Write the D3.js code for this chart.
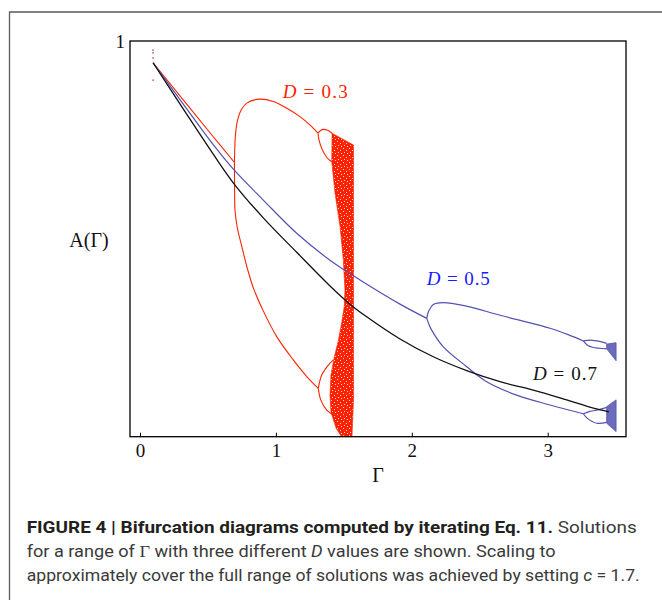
<!DOCTYPE html>
<html>
<head>
<meta charset="utf-8">
<script src="https://cdn.jsdelivr.net/npm/d3@7"></script>
<style>
  body { margin: 0; background: #fff; }
</style>
</head>
<body>
<svg id="chart"></svg>
<script>
// values: [Gamma, A]
const xTicks = [0, 1, 2, 3];
const yTicks = [1];

// D = 0.3 (red)
const redMain = [[0.096, 0.945], [0.539, 0.758], [0.695, 0.693]];
const redUpper = [[0.695, 0.693], [0.697, 0.725], [0.703, 0.765], [0.718, 0.80], [0.745, 0.826], [0.785, 0.843],
  [0.883, 0.853], [0.981, 0.847], [1.08, 0.830], [1.177, 0.809], [1.25, 0.788], [1.31, 0.767]];
const redLower = [[0.695, 0.693], [0.696, 0.63], [0.699, 0.573], [0.715, 0.530], [0.748, 0.482], [0.790, 0.425],
  [0.834, 0.376], [0.907, 0.318], [1.006, 0.253], [1.128, 0.194], [1.227, 0.152], [1.312, 0.122]];
const redUpperSplitA = [[1.31, 0.767], [1.339, 0.776], [1.376, 0.775], [1.413, 0.767]];
const redUpperSplitB = [[1.31, 0.767], [1.317, 0.750], [1.339, 0.727], [1.376, 0.705], [1.411, 0.695]];
const redLowerSplitA = [[1.312, 0.122], [1.337, 0.156], [1.386, 0.181], [1.423, 0.194]];
const redLowerSplitB = [[1.312, 0.122], [1.330, 0.093], [1.374, 0.067], [1.423, 0.055]];
const redChaos = [[1.413, 0.767], [1.411, 0.695], [1.435, 0.615], [1.472, 0.531], [1.496, 0.447], [1.508, 0.371],
  [1.503, 0.330], [1.486, 0.292], [1.460, 0.244], [1.428, 0.199], [1.405, 0.156], [1.398, 0.105],
  [1.405, 0.062], [1.442, 0.022], [1.479, 0.002], [1.560, 0.0], [1.571, 0.093], [1.571, 0.737]];
const redStartDots = [[0.096, 0.977], [0.096, 0.957], [0.096, 0.901]];

// D = 0.5 (blue)
const blueMain = [[0.096, 0.945], [0.294, 0.852], [0.539, 0.738], [0.687, 0.676], [0.907, 0.598], [1.153, 0.514],
  [1.398, 0.446], [1.619, 0.396], [1.913, 0.335], [2.11, 0.299]];
const blueUpper = [[2.11, 0.299], [2.125, 0.318], [2.158, 0.334], [2.232, 0.339], [2.40, 0.330], [2.649, 0.307],
  [3.017, 0.274], [3.15, 0.258], [3.262, 0.242]];
const blueLower = [[2.11, 0.299], [2.125, 0.285], [2.145, 0.270], [2.232, 0.227], [2.404, 0.177], [2.551, 0.139],
  [2.772, 0.105], [3.017, 0.080], [3.262, 0.058]];
const blueUpperSplitA = [[3.262, 0.242], [3.31, 0.244], [3.36, 0.242], [3.434, 0.236]];
const blueUpperSplitB = [[3.262, 0.242], [3.29, 0.232], [3.33, 0.226], [3.434, 0.222]];
const blueLowerSplitA = [[3.262, 0.058], [3.31, 0.064], [3.36, 0.067], [3.434, 0.074]];
const blueLowerSplitB = [[3.262, 0.058], [3.29, 0.047], [3.36, 0.034], [3.434, 0.036]];
const blueChaosUpper = [[3.434, 0.234], [3.503, 0.2375], [3.503, 0.192], [3.434, 0.222]];
const blueChaosLower = [[3.434, 0.076], [3.503, 0.093], [3.503, 0.013], [3.434, 0.034]];
const blueStartDots = [[0.096, 0.970]];

// D = 0.7 (black)
const blackMain = [[0.096, 0.945], [0.319, 0.828], [0.539, 0.714], [0.699, 0.636], [0.907, 0.553], [1.153, 0.466],
  [1.398, 0.381], [1.545, 0.335], [1.668, 0.303], [1.913, 0.247], [2.158, 0.202], [2.404, 0.167], [2.649, 0.139],
  [2.894, 0.118], [3.140, 0.093], [3.336, 0.072], [3.45, 0.063]];

const labels = [
  { text: "0.3", g: 1.05, a: 0.855, color: "#ff2200", len: 65 },
  { text: "0.5", g: 2.11, a: 0.384, color: "#1a1aff", len: 63 },
  { text: "0.7", g: 2.892, a: 0.144, color: "#111111", len: 64 }
];

const width = 662;
const height = 600;
const marginTop = 41;
const marginRight = 36;
const marginBottom = 163.3;
const marginLeft = 130;

const red = "#ff2200";
const blue = "#5252b0";

const x = d3.scaleLinear([-0.0736, 3.576], [marginLeft, width - marginRight]);
const y = d3.scaleLinear([0, 1], [height - marginBottom, marginTop]);

const line = d3.line()
  .x(d => x(d[0]))
  .y(d => y(d[1]))
  .curve(d3.curveCatmullRom.alpha(0.5));

const poly = d3.line()
  .x(d => x(d[0]))
  .y(d => y(d[1]));

let svg = d3.select("svg#chart")
  .attr("width", width)
  .attr("height", height)
  .attr("viewBox", [0, 0, width, height]);

// speckle texture for the chaotic bands
const defs = svg.append("defs");
function speckle(id, color) {
  const p = defs.append("pattern")
    .attr("id", id)
    .attr("width", 6)
    .attr("height", 7)
    .attr("patternUnits", "userSpaceOnUse");
  p.append("rect").attr("width", 6).attr("height", 7).attr("fill", color);
  [[1, 1], [4, 3], [2, 5], [5, 6]].forEach(s => {
    p.append("rect").attr("x", s[0]).attr("y", s[1]).attr("width", 1).attr("height", 1)
      .attr("fill", "#fff").attr("opacity", 0.8);
  });
}
speckle("redSpeck", red);

// outer figure border
svg.append("path")
  .attr("fill", "none")
  .attr("stroke", "#5a5a5a")
  .attr("stroke-width", 1.3)
  .attr("d", `M9.5,${height} V12 H${width}`);

// red D = 0.3
svg.append("path")
  .attr("fill", "url(#redSpeck)")
  .attr("stroke", red)
  .attr("stroke-width", 0.6)
  .attr("d", poly(redChaos) + "Z");

[redMain, redUpper, redLower, redUpperSplitA, redUpperSplitB, redLowerSplitA, redLowerSplitB].forEach(b => {
  svg.append("path")
    .attr("fill", "none")
    .attr("stroke", red)
    .attr("stroke-width", 1.1)
    .attr("d", line(b));
});

// blue D = 0.5
[blueMain, blueUpper, blueLower, blueUpperSplitA, blueUpperSplitB, blueLowerSplitA, blueLowerSplitB].forEach(b => {
  svg.append("path")
    .attr("fill", "none")
    .attr("stroke", blue)
    .attr("stroke-width", 1.2)
    .attr("d", line(b));
});
[blueChaosUpper, blueChaosLower].forEach(b => {
  svg.append("path")
    .attr("fill", blue)
    .attr("fill-opacity", 0.85)
    .attr("stroke", blue)
    .attr("stroke-width", 0.8)
    .attr("d", poly(b) + "Z");
});

// black D = 0.7
svg.append("path")
  .attr("fill", "none")
  .attr("stroke", "#111")
  .attr("stroke-width", 1.3)
  .attr("d", line(blackMain));

// transient points at the start
svg.selectAll("rect.red-dot")
  .data(redStartDots)
  .join("rect")
  .attr("x", d => x(d[0]) - 0.6)
  .attr("y", d => y(d[1]) - 0.8)
  .attr("width", 1.2)
  .attr("height", 1.6)
  .attr("fill", red);
svg.selectAll("rect.blue-dot")
  .data(blueStartDots)
  .join("rect")
  .attr("x", d => x(d[0]) - 0.6)
  .attr("y", d => y(d[1]) - 0.8)
  .attr("width", 1.2)
  .attr("height", 1.6)
  .attr("fill", blue);

// frame
svg.append("rect")
  .attr("x", marginLeft)
  .attr("y", marginTop)
  .attr("width", width - marginLeft - marginRight)
  .attr("height", height - marginTop - marginBottom)
  .attr("fill", "none")
  .attr("stroke", "#000")
  .attr("stroke-width", 1.3);

const serif = "'Liberation Serif', 'Times New Roman', serif";

// x axis with inward ticks
svg.append("g")
  .attr("transform", `translate(0,${height - marginBottom})`)
  .call(d3.axisBottom(x).tickValues(xTicks).tickFormat(d3.format("d")).tickSizeInner(-4).tickSizeOuter(0).tickPadding(7))
  .call(g => g.select(".domain").remove())
  .call(g => g.selectAll(".tick line").attr("stroke", "#000").attr("stroke-width", 1))
  .call(g => g.selectAll(".tick text").attr("font-family", serif).attr("font-size", 19).attr("fill", "#111"));

// y axis: only the top value
svg.append("g")
  .attr("transform", `translate(${marginLeft},0)`)
  .call(d3.axisLeft(y).tickValues(yTicks).tickFormat(d3.format("d")).tickSize(0).tickPadding(5))
  .call(g => g.select(".domain").remove())
  .call(g => g.selectAll(".tick text").attr("font-family", serif).attr("font-size", 19).attr("fill", "#111"));

// axis titles
svg.append("text")
  .attr("x", 378)
  .attr("y", 482)
  .attr("text-anchor", "middle")
  .attr("font-family", serif)
  .attr("font-size", 20)
  .attr("fill", "#111")
  .text("Γ");

svg.append("text")
  .attr("x", 89)
  .attr("y", 247)
  .attr("text-anchor", "middle")
  .attr("font-family", serif)
  .attr("font-size", 20)
  .attr("fill", "#111")
  .text("A(Γ)");

// curve labels
labels.forEach(l => {
  const t = svg.append("text")
    .attr("x", x(l.g))
    .attr("y", y(l.a))
    .attr("font-family", serif)
    .attr("font-size", 19)
    .attr("fill", l.color)
    .attr("textLength", l.len)
    .attr("lengthAdjust", "spacing");
  t.append("tspan").attr("font-style", "italic").text("D");
  t.append("tspan").text(" = " + l.text);
});

// caption
const sans = "'Liberation Sans Narrow', Roboto, 'Liberation Sans', sans-serif";
const cap1 = svg.append("text")
  .attr("x", 26.7).attr("y", 533)
  .attr("font-family", sans).attr("font-size", 16).attr("fill", "#3a3a3a")
  .attr("textLength", 610).attr("lengthAdjust", "spacingAndGlyphs");
cap1.append("tspan").attr("font-weight", "bold").attr("fill", "#231f20")
  .text("FIGURE 4 | Bifurcation diagrams computed by iterating Eq. 11.");
cap1.append("tspan").text(" Solutions");

const cap2 = svg.append("text")
  .attr("x", 26.7).attr("y", 557)
  .attr("font-family", sans).attr("font-size", 16).attr("fill", "#3a3a3a")
  .attr("textLength", 529).attr("lengthAdjust", "spacingAndGlyphs");
cap2.append("tspan").text("for a range of ");
cap2.append("tspan").attr("font-family", serif).text("Γ");
cap2.append("tspan").text(" with three different ");
cap2.append("tspan").attr("font-style", "italic").text("D");
cap2.append("tspan").text(" values are shown. Scaling to");

const cap3 = svg.append("text")
  .attr("x", 26.7).attr("y", 581)
  .attr("font-family", sans).attr("font-size", 16).attr("fill", "#3a3a3a")
  .attr("textLength", 613).attr("lengthAdjust", "spacingAndGlyphs");
cap3.append("tspan").text("approximately cover the full range of solutions was achieved by setting ");
cap3.append("tspan").attr("font-style", "italic").text("c");
cap3.append("tspan").text(" = 1.7.");
</script>
</body>
</html>
